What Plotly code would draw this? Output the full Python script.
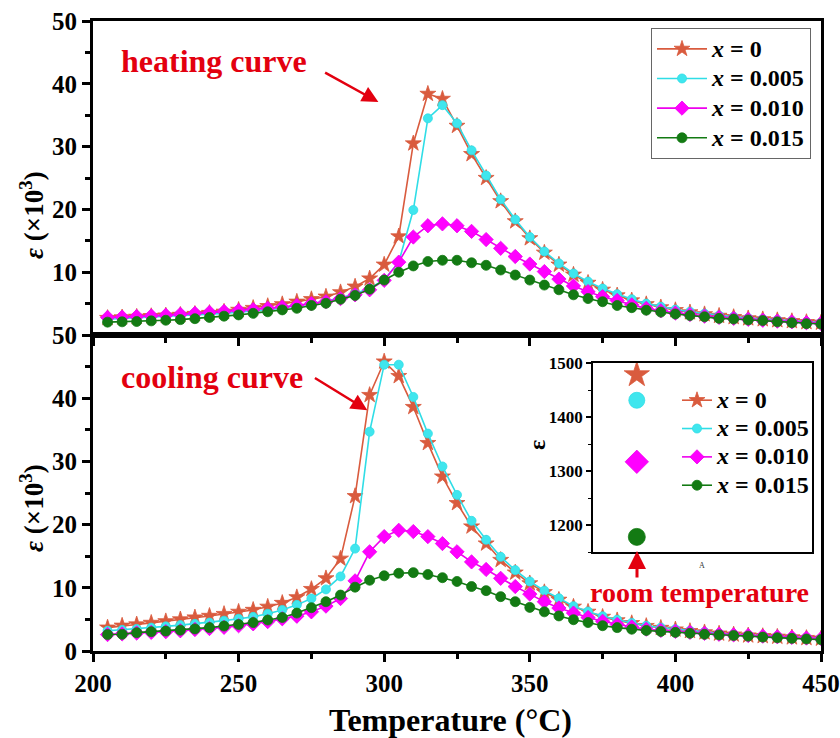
import plotly.graph_objects as go

# ---------------- data ----------------
temps = [205, 210, 215, 220, 225, 230, 235, 240, 245, 250,
         255, 260, 265, 270, 275, 280, 285, 290, 295, 300,
         305, 310, 315, 320, 325, 330, 335, 340, 345, 350,
         355, 360, 365, 370, 375, 380, 385, 390, 395, 400,
         405, 410, 415, 420, 425, 430, 435, 440, 445, 450]

series_names = ["<i>x</i> = 0", "<i>x</i> = 0.005", "<i>x</i> = 0.010", "<i>x</i> = 0.015"]

heat_x0 = [2.7, 2.8, 2.9, 3.0, 3.1, 3.2, 3.35, 3.5, 3.7, 4.0,
           4.3, 4.6, 4.9, 5.3, 5.7, 6.1, 6.8, 7.7, 9.0, 11.2,
           15.7, 30.5, 38.4, 37.6, 33.3, 28.8, 25.0, 21.3, 18.1, 15.4,
           13.1, 11.2, 9.6, 8.3, 7.2, 6.3, 5.5, 4.9, 4.4, 3.95,
           3.6, 3.3, 3.05, 2.85, 2.65, 2.5, 2.35, 2.2, 2.05, 1.95]
heat_x005 = [2.5, 2.6, 2.7, 2.8, 2.9, 3.0, 3.15, 3.3, 3.45, 3.6,
             3.8, 4.0, 4.3, 4.6, 5.0, 5.4, 5.9, 6.6, 7.4, 8.8,
             11.6, 19.9, 34.5, 36.6, 33.7, 29.4, 25.4, 21.6, 18.4, 15.6,
             13.3, 11.4, 9.8, 8.5, 7.4, 6.5, 5.7, 5.0, 4.5, 4.05,
             3.7, 3.4, 3.1, 2.9, 2.7, 2.55, 2.4, 2.25, 2.1, 2.0]
heat_x010 = [2.8, 2.85, 2.95, 3.05, 3.15, 3.3, 3.45, 3.6, 3.75, 3.9,
             4.05, 4.25, 4.45, 4.7, 5.0, 5.3, 5.8, 6.4, 7.2, 8.7,
             11.6, 15.6, 17.4, 17.7, 17.4, 16.5, 15.2, 13.8, 12.5, 11.3,
             10.1, 8.9, 7.8, 6.9, 6.1, 5.5, 4.8, 4.25, 3.85, 3.5,
             3.25, 3.0, 2.8, 2.65, 2.5, 2.35, 2.2, 2.1, 1.95, 1.85]
heat_x015 = [2.05, 2.1, 2.15, 2.25, 2.35, 2.45, 2.6, 2.8, 3.0, 3.2,
             3.45, 3.7, 4.0, 4.25, 4.7, 5.05, 5.7, 6.3, 7.3, 8.75,
             10.0, 11.0, 11.7, 11.9, 11.9, 11.5, 11.1, 10.35, 9.55, 8.75,
             7.95, 7.2, 6.4, 5.8, 5.3, 4.7, 4.35, 3.95, 3.65, 3.35,
             3.1, 2.9, 2.65, 2.55, 2.4, 2.3, 2.1, 1.95, 1.8, 1.75]

cool_x0 = [3.7, 4.0, 4.2, 4.45, 4.7, 5.0, 5.3, 5.55, 5.85, 6.2,
           6.5, 7.0, 7.6, 8.5, 9.8, 11.5, 14.6, 24.5, 40.5, 45.8,
           43.5, 38.6, 32.9, 27.6, 23.4, 19.7, 17.0, 14.4, 12.4, 10.7,
           9.3, 8.1, 7.0, 6.2, 5.4, 4.85, 4.4, 3.95, 3.65, 3.4,
           3.15, 2.95, 2.75, 2.6, 2.45, 2.35, 2.25, 2.15, 2.05, 1.95]
cool_x005 = [3.2, 3.35, 3.5, 3.7, 3.9, 4.1, 4.3, 4.5, 4.8, 5.1,
             5.4, 5.9, 6.5, 7.3, 8.3, 9.75, 11.8, 16.2, 34.7, 45.3,
             45.3, 40.2, 34.4, 29.2, 24.7, 20.6, 17.6, 14.9, 12.8, 11.0,
             9.55, 8.35, 7.1, 6.25, 5.5, 4.95, 4.45, 4.0, 3.7, 3.45,
             3.2, 3.0, 2.8, 2.65, 2.5, 2.4, 2.3, 2.2, 2.1, 2.0]
cool_x010 = [2.6, 2.7, 2.85, 2.95, 3.05, 3.2, 3.4, 3.55, 3.75, 4.0,
             4.3, 4.65, 5.1, 5.5, 6.2, 7.1, 8.3, 11.1, 15.7, 18.1,
             19.1, 18.9, 18.1, 17.0, 15.7, 14.1, 12.9, 11.5, 10.2, 9.0,
             7.8, 6.8, 6.0, 5.3, 4.7, 4.2, 3.8, 3.45, 3.25, 3.1,
             2.95, 2.8, 2.65, 2.55, 2.45, 2.35, 2.25, 2.15, 2.05, 1.95]
cool_x015 = [2.6, 2.65, 2.9, 3.05, 3.15, 3.3, 3.5, 3.7, 3.95, 4.2,
             4.5, 4.9, 5.3, 6.0, 6.85, 7.8, 8.85, 10.1, 11.2, 11.9,
             12.3, 12.4, 12.1, 11.6, 11.0, 10.2, 9.55, 8.6, 7.8, 6.9,
             6.2, 5.55, 4.95, 4.5, 4.0, 3.7, 3.45, 3.25, 3.1, 2.95,
             2.8, 2.65, 2.55, 2.45, 2.35, 2.2, 2.1, 2.0, 1.9, 1.8]

room_x = ["RT"]
room_eps = [1478, 1431, 1317, 1178]   # inset: epsilon at room temperature

heat_series = [heat_x0, heat_x005, heat_x010, heat_x015]
cool_series = [cool_x0, cool_x005, cool_x010, cool_x015]

# ---------------- styles ----------------
colors = ["#d95b3e", "#3fe6ee", "#ff00ff", "#137a13"]
line_colors = ["#d95b3e", "#2fdde6", "#ee00ee", "#137a13"]
symbols = ["star", "circle", "diamond", "circle"]
msizes = [12, 9, 11, 10]
FONT = "Liberation Serif"

FW, FH = 840, 738
PL, PT, PW, PH = 93, 21, 728, 630


def px(xp):
    return (xp - PL) / PW


def py(yp):
    return (PT + PH - yp) / PH


def big(name):
    return '<span style="font-size:24px">' + name + "</span>"


fig = go.Figure()

for i in range(4):
    mk = dict(symbol=symbols[i], size=msizes[i], color=colors[i],
              line=dict(width=0.8, color=line_colors[i]))
    fig.add_trace(go.Scatter(x=temps, y=heat_series[i], mode="lines+markers",
                             name=big(series_names[i]), xaxis="x2", yaxis="y2",
                             line=dict(color=line_colors[i], width=1.6),
                             marker=mk, legend="legend"))
for i in range(4):
    mk = dict(symbol=symbols[i], size=msizes[i], color=colors[i],
              line=dict(width=0.8, color=line_colors[i]))
    fig.add_trace(go.Scatter(x=temps, y=cool_series[i], mode="lines+markers",
                             name=big(series_names[i]), xaxis="x", yaxis="y",
                             line=dict(color=line_colors[i], width=1.6),
                             marker=mk, legend="legend2"))
for i in range(4):
    fig.add_trace(go.Scatter(x=room_x, y=[room_eps[i]], mode="markers",
                             xaxis="x3", yaxis="y3", showlegend=False,
                             marker=dict(symbol=symbols[i], size=msizes[i] + 7,
                                         color=colors[i],
                                         line=dict(width=0.8, color=line_colors[i]))))

tickfont = dict(family=FONT, size=25, color="black", weight="bold")
common_axis = dict(showline=True, linewidth=3, linecolor="black", mirror=True,
                   ticks="outside", ticklen=8, tickwidth=2.5, tickcolor="black",
                   showgrid=False, zeroline=False, tickfont=tickfont,
                   ticklabeloverflow="allow")

bottom_dom = (651 - 335) / PH
fig.update_layout(
    width=FW, height=FH,
    margin=dict(l=PL, r=FW - PL - PW, t=PT, b=FH - PT - PH, autoexpand=False),
    paper_bgcolor="white", plot_bgcolor="white",
    xaxis=dict(domain=[0, 1], anchor="y", range=[200, 450], tickvals=[200, 250, 300, 350, 400, 450],
               minor=dict(dtick=25, ticks="outside", ticklen=5, tickwidth=2.5, tickcolor="black"),
               **common_axis),
    yaxis=dict(domain=[0, bottom_dom], anchor="x", range=[0, 50], tickvals=[0, 10, 20, 30, 40, 50],
               minor=dict(dtick=5, ticks="outside", ticklen=5, tickwidth=2.5, tickcolor="black"),
               **common_axis),
    xaxis2=dict(domain=[0, 1], anchor="y2", range=[200, 450], tickvals=[200, 250, 300, 350, 400, 450],
                showticklabels=False,
                minor=dict(dtick=25, ticks="outside", ticklen=5, tickwidth=2.5, tickcolor="black"),
                **common_axis),
    yaxis2=dict(domain=[bottom_dom, 1], anchor="x2", range=[0, 50], tickvals=[10, 20, 30, 40, 50],
                minor=dict(dtick=5, ticks="outside", ticklen=5, tickwidth=2.5, tickcolor="black"),
                **common_axis),
    xaxis3=dict(domain=[px(593), px(812)], anchor="y3", range=[-0.4, 1.6], showline=True, linewidth=1.5,
                linecolor="black", mirror=True, showticklabels=False, ticks="", showgrid=False,
                zeroline=False, type="category"),
    yaxis3=dict(domain=[py(552), py(363)], anchor="x3", range=[1150, 1500], showline=True, linewidth=1.5,
                linecolor="black", mirror=True, ticks="outside", ticklen=5, tickwidth=1.5,
                tickcolor="black", tickvals=[1200, 1300, 1400, 1500], showgrid=False, zeroline=False,
                minor=dict(dtick=50, ticks="outside", ticklen=3, tickwidth=1.2, tickcolor="black"),
                tickfont=dict(family=FONT, size=17, color="black", weight="bold")),
    legend=dict(x=px(651), y=py(28), xanchor="left", yanchor="top", bgcolor="white",
                bordercolor="#666666", borderwidth=1, itemwidth=50,
                font=dict(family=FONT, size=20.5, color="black", weight="bold"),
                tracegroupgap=0),
    legend2=dict(x=px(677), y=py(381), xanchor="left", yanchor="top", bgcolor="rgba(0,0,0,0)",
                 borderwidth=0,
                 font=dict(family=FONT, size=19.5, color="black", weight="bold"),
                 tracegroupgap=0),
    showlegend=True,
)

red = "#e3000f"
ann = []
# y axis titles
for yc in (215, 508):
    ann.append(dict(text="<i>ε</i> (×10<sup>3</sup>)", xref="paper", yref="paper",
                    x=px(32), y=py(yc), xanchor="center", yanchor="middle",
                    showarrow=False, textangle=-90,
                    font=dict(family=FONT, size=27, color="black", weight="bold")))
# x axis title
ann.append(dict(text="Temperature (°C)", xref="paper", yref="paper",
                x=px(450), y=py(720), xanchor="center", yanchor="middle", showarrow=False,
                font=dict(family=FONT, size=32, color="black", weight="bold")))
# heating / cooling labels
ann.append(dict(text="heating curve", xref="x2", yref="y2", x=241.5, y=43.6,
                xanchor="center", yanchor="middle", showarrow=False,
                font=dict(family=FONT, size=32, color=red, weight="bold")))
ann.append(dict(text="", xref="x2", yref="y2", x=298, y=37.1, axref="x2", ayref="y2",
                ax=279.2, ay=41.9, showarrow=True, arrowhead=2, arrowsize=1.3, arrowwidth=2.5,
                arrowcolor=red))
ann.append(dict(text="cooling curve", xref="x", yref="y", x=241.0, y=43.4,
                xanchor="center", yanchor="middle", showarrow=False,
                font=dict(family=FONT, size=32, color=red, weight="bold")))
ann.append(dict(text="", xref="x", yref="y", x=294.2, y=38.1, axref="x", ayref="y",
                ax=275.7, ay=43.35, showarrow=True, arrowhead=2, arrowsize=1.3, arrowwidth=2.5,
                arrowcolor=red))
# room temperature
ann.append(dict(text="room temperature", xref="paper", yref="paper", x=px(699), y=py(592),
                xanchor="center", yanchor="middle", showarrow=False,
                font=dict(family=FONT, size=28, color=red, weight="bold")))
ann.append(dict(text="", xref="paper", yref="paper", x=px(637), y=py(551),
                ax=0, ay=28, showarrow=True, arrowhead=2, arrowsize=1.2, arrowwidth=3,
                arrowcolor=red))
# inset labels
ann.append(dict(text="ε", xref="paper", yref="paper", x=px(537), y=py(445),
                xanchor="center", yanchor="middle", showarrow=False, textangle=-90,
                font=dict(family=FONT, size=24, color="black", weight="bold")))
ann.append(dict(text="A", xref="paper", yref="paper", x=px(702), y=py(565),
                xanchor="center", yanchor="middle",
                showarrow=False, font=dict(family=FONT, size=8, color="#333333")))
fig.update_layout(annotations=ann)

fig.write_html("out.html", config={"displayModeBar": False},
               post_script="document.body.style.margin='0px';document.body.style.overflow='hidden';")
